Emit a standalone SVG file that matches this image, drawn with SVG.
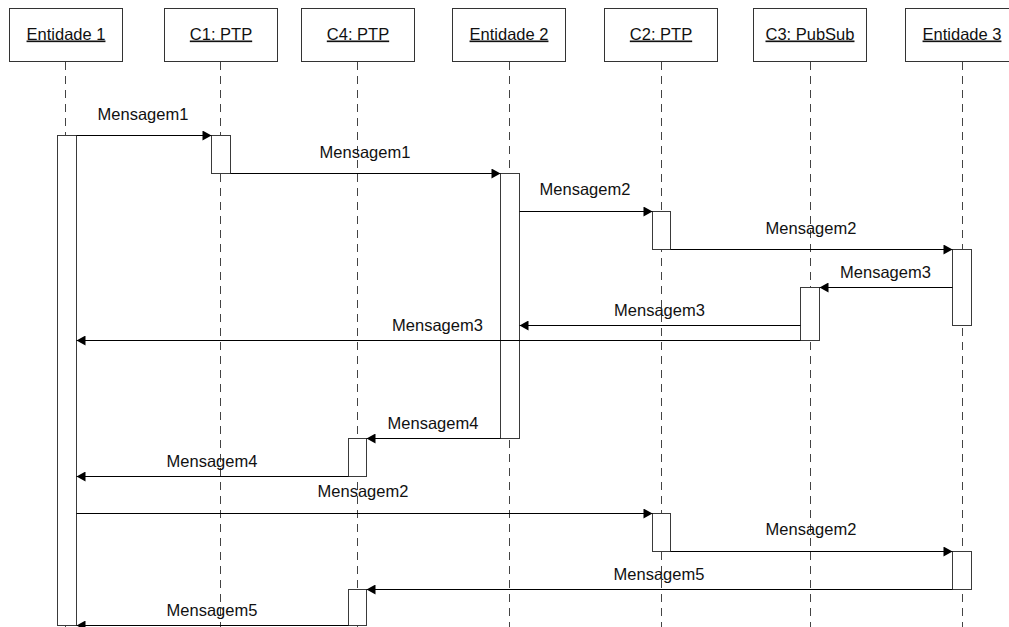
<svg xmlns="http://www.w3.org/2000/svg" width="1009" height="627" viewBox="0 0 1009 627">
  <style>
    .box { fill: #ffffff; stroke: #333333; stroke-width: 1; }
    .head { font-family: "Liberation Sans", Arial, sans-serif; font-size: 16.5px; fill: #111111; text-anchor: middle; text-decoration: underline; }
    .life { stroke: #444444; stroke-width: 1; stroke-dasharray: 8 6; fill: none; }
    .bar { fill: #ffffff; stroke: #3a3a3a; stroke-width: 1; }
    .msg { stroke: #000000; stroke-width: 1; fill: none; marker-end: url(#arrow); }
    .lbl { font-family: "Liberation Sans", Arial, sans-serif; font-size: 16.5px; fill: #111111; text-anchor: middle; }
  </style>
  <defs>
    <marker id="arrow" viewBox="0 0 10 10" refX="10" refY="5" markerWidth="10" markerHeight="10" markerUnits="userSpaceOnUse" orient="auto">
      <path d="M1,0 L10,5 L1,10 z" fill="#000000"/>
    </marker>
  </defs>
  <rect width="1009" height="627" fill="#ffffff"/>

  <!-- lifelines -->
  <g id="lifelines">
    <line class="life" x1="65.5" y1="62" x2="65.5" y2="627"/>
    <line class="life" x1="220.5" y1="62" x2="220.5" y2="627"/>
    <line class="life" x1="357.5" y1="62" x2="357.5" y2="627"/>
    <line class="life" x1="509.5" y1="62" x2="509.5" y2="627"/>
    <line class="life" x1="661.5" y1="62" x2="661.5" y2="627"/>
    <line class="life" x1="810.5" y1="62" x2="810.5" y2="627"/>
    <line class="life" x1="962.5" y1="62" x2="962.5" y2="627"/>
  </g>

  <!-- participants -->
  <g id="entidade1">
    <rect class="box" x="9.5" y="8.5" width="113" height="53"/>
    <text class="head" x="66" y="39.5">Entidade 1</text>
    <rect class="bar" x="57.5" y="135.5" width="19" height="490"/>
  </g>
  <g id="c1">
    <rect class="box" x="164.5" y="8.5" width="113" height="53"/>
    <text class="head" x="221" y="39.5">C1: PTP</text>
    <rect class="bar" x="211.5" y="135.5" width="19" height="38"/>
  </g>
  <g id="c4">
    <rect class="box" x="301.5" y="8.5" width="113" height="53"/>
    <text class="head" x="358" y="39.5">C4: PTP</text>
    <rect class="bar" x="348.5" y="438.5" width="18" height="38"/>
    <rect class="bar" x="348.5" y="589.5" width="18" height="36"/>
  </g>
  <g id="entidade2">
    <rect class="box" x="452.5" y="8.5" width="113" height="53"/>
    <text class="head" x="509" y="39.5">Entidade 2</text>
    <rect class="bar" x="500.5" y="173.5" width="19" height="265"/>
  </g>
  <g id="c2">
    <rect class="box" x="604.5" y="8.5" width="113" height="53"/>
    <text class="head" x="661" y="39.5">C2: PTP</text>
    <rect class="bar" x="652.5" y="211.5" width="18" height="38"/>
    <rect class="bar" x="652.5" y="513.5" width="18" height="38"/>
  </g>
  <g id="c3">
    <rect class="box" x="753.5" y="8.5" width="113" height="53"/>
    <text class="head" x="810" y="39.5">C3: PubSub</text>
    <rect class="bar" x="800.5" y="287.5" width="19" height="53"/>
  </g>
  <g id="entidade3">
    <rect class="box" x="905.5" y="8.5" width="113" height="53"/>
    <text class="head" x="962" y="39.5">Entidade 3</text>
    <rect class="bar" x="952.5" y="249.5" width="19" height="76"/>
    <rect class="bar" x="952.5" y="551.5" width="19" height="38"/>
  </g>

  <!-- messages -->
  <g id="messages">
    <line class="msg" x1="76.5" y1="135.5" x2="211.5" y2="135.5"/>
    <text class="lbl" x="143" y="119.5">Mensagem1</text>

    <line class="msg" x1="230.5" y1="173.5" x2="500.5" y2="173.5"/>
    <text class="lbl" x="365" y="157.5">Mensagem1</text>

    <line class="msg" x1="519.5" y1="211.5" x2="652.5" y2="211.5"/>
    <text class="lbl" x="585" y="194.5">Mensagem2</text>

    <line class="msg" x1="670.5" y1="249.5" x2="952.5" y2="249.5"/>
    <text class="lbl" x="811" y="233.5">Mensagem2</text>

    <line class="msg" x1="952.5" y1="287.5" x2="819.5" y2="287.5"/>
    <text class="lbl" x="885.5" y="277.5">Mensagem3</text>

    <line class="msg" x1="800.5" y1="325.5" x2="519.5" y2="325.5"/>
    <text class="lbl" x="659.5" y="315.5">Mensagem3</text>

    <line class="msg" x1="800.5" y1="340.5" x2="76.5" y2="340.5"/>
    <text class="lbl" x="437.5" y="331">Mensagem3</text>

    <line class="msg" x1="500.5" y1="438.5" x2="366.5" y2="438.5"/>
    <text class="lbl" x="433" y="429">Mensagem4</text>

    <line class="msg" x1="348.5" y1="476.5" x2="76.5" y2="476.5"/>
    <text class="lbl" x="212" y="466.5">Mensagem4</text>

    <line class="msg" x1="76.5" y1="513.5" x2="652.5" y2="513.5"/>
    <text class="lbl" x="363" y="497">Mensagem2</text>

    <line class="msg" x1="670.5" y1="551.5" x2="952.5" y2="551.5"/>
    <text class="lbl" x="811" y="534.5">Mensagem2</text>

    <line class="msg" x1="952.5" y1="589.5" x2="366.5" y2="589.5"/>
    <text class="lbl" x="659" y="580">Mensagem5</text>

    <line class="msg" x1="348.5" y1="625.5" x2="76.5" y2="625.5"/>
    <text class="lbl" x="212" y="616">Mensagem5</text>
  </g>
</svg>
